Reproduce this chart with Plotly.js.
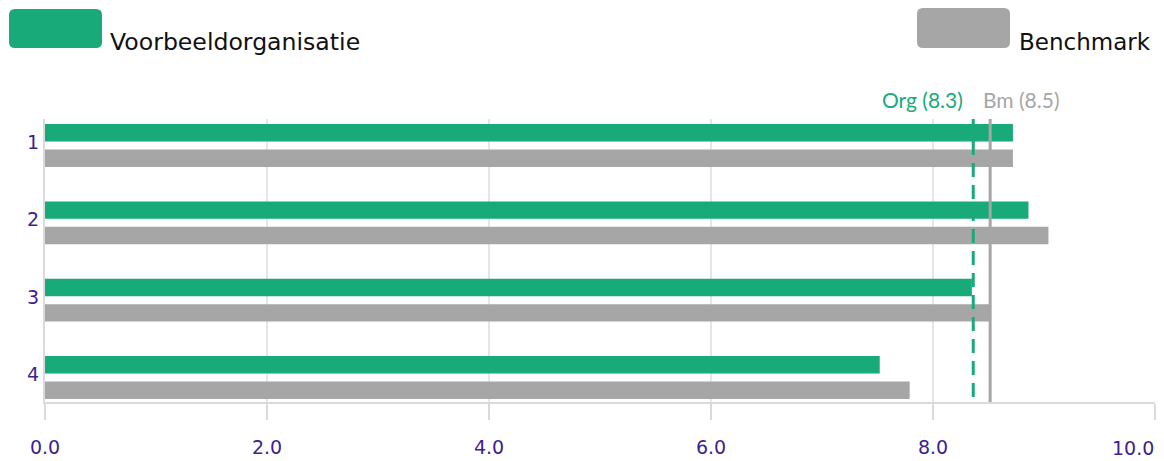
<!DOCTYPE html>
<html>
<head>
<meta charset="utf-8">
<script src="https://cdn.plot.ly/plotly-3.0.1.min.js"></script>
<style>
  html, body { margin: 0; padding: 0; background: #ffffff; }
  #chart { width: 1164px; height: 461px; }
</style>
</head>
<body>
<div id="chart"></div>
<script>
// Scores per question for the organisation and the benchmark
const categories = ['1', '2', '3', '4'];
const orgValues = [8.72, 8.86, 8.35, 7.52];
const bmValues = [8.72, 9.04, 8.51, 7.79];
const seriesNames = ['Voorbeeldorganisatie', 'Benchmark'];
const refLabels = ['Org', 'Bm'];
const xTicks = [0, 2, 4, 6, 8, 10];

const GREEN = '#18aa78';
const GREY = '#a6a6a6';
const PURPLE = '#3d1f8e';
const AXIS = '#dadada';

const W = 1164, H = 461;
const M = { l: 45, r: 9, t: 119, b: 59 };
const PW = W - M.l - M.r, PH = H - M.t - M.b;

// pixel -> paper helpers for the legend elements outside the plot area
const px = v => (v - M.l) / PW;
const py = v => (H - M.b - v) / PH;

function roundRect(x0, y0, x1, y1, r) {
  const X = px, Y = py;
  return 'M' + X(x0 + r) + ',' + Y(y0) +
    ' L' + X(x1 - r) + ',' + Y(y0) +
    ' Q' + X(x1) + ',' + Y(y0) + ' ' + X(x1) + ',' + Y(y0 + r) +
    ' L' + X(x1) + ',' + Y(y1 - r) +
    ' Q' + X(x1) + ',' + Y(y1) + ' ' + X(x1 - r) + ',' + Y(y1) +
    ' L' + X(x0 + r) + ',' + Y(y1) +
    ' Q' + X(x0) + ',' + Y(y1) + ' ' + X(x0) + ',' + Y(y1 - r) +
    ' L' + X(x0) + ',' + Y(y0 + r) +
    ' Q' + X(x0) + ',' + Y(y0) + ' ' + X(x0 + r) + ',' + Y(y0) + ' Z';
}

const mean = arr => arr.reduce((a, b) => a + b, 0) / arr.length;
const orgMean = mean(orgValues);
const bmMean = mean(bmValues);
const fmt = v => (Math.floor(v * 10) / 10).toFixed(1);

const traces = [
  {
    type: 'bar', orientation: 'h', name: seriesNames[0],
    y: categories, x: orgValues,
    marker: { color: GREEN }, hoverinfo: 'skip'
  },
  {
    type: 'bar', orientation: 'h', name: seriesNames[1],
    y: categories, x: bmValues,
    marker: { color: GREY }, hoverinfo: 'skip'
  }
];

const tickFont = { family: 'DejaVu Sans, Verdana, sans-serif', size: 19, color: PURPLE };
const lastTick = xTicks[xTicks.length - 1];

const layout = {
  width: W, height: H,
  margin: M,
  paper_bgcolor: '#ffffff', plot_bgcolor: '#ffffff',
  showlegend: false,
  barmode: 'group',
  bargap: 0.342,
  bargroupgap: 0.313,
  xaxis: {
    range: [0, 10],
    tickvals: xTicks,
    ticktext: xTicks.map(v => v === lastTick ? '' : v.toFixed(1)),
    tickfont: tickFont,
    ticks: 'outside', ticklen: 16, tickwidth: 2, tickcolor: AXIS,
    ticklabelstandoff: 11,
    showgrid: true, gridcolor: '#e6e6e6', gridwidth: 1.5,
    showline: true, linecolor: AXIS, linewidth: 2,
    zeroline: false, fixedrange: true
  },
  yaxis: {
    type: 'category',
    range: [3.317, -0.343],
    tickfont: tickFont,
    ticks: '', ticklabelstandoff: 0,
    ticklabelshift: 3,
    showgrid: false,
    showline: true, linecolor: AXIS, linewidth: 2,
    zeroline: false, fixedrange: true
  },
  shapes: [
    // average reference lines, drawn top to bottom
    {
      type: 'line', xref: 'x', yref: 'paper', x0: orgMean, x1: orgMean, y0: 1, y1: 0,
      line: { color: GREEN, width: 3, dash: '14px,8px' }, layer: 'above'
    },
    {
      type: 'line', xref: 'x', yref: 'paper', x0: bmMean, x1: bmMean, y0: 1, y1: 0,
      line: { color: GREY, width: 3 }, layer: 'above'
    },
    // legend swatches
    {
      type: 'path', xref: 'paper', yref: 'paper', path: roundRect(9, 9, 102, 48, 6),
      fillcolor: GREEN, line: { width: 0 }
    },
    {
      type: 'path', xref: 'paper', yref: 'paper', path: roundRect(917, 8, 1010, 48, 6),
      fillcolor: GREY, line: { width: 0 }
    }
  ],
  annotations: [
    {
      xref: 'paper', yref: 'paper', x: px(108), y: py(42), xanchor: 'left', yanchor: 'middle',
      text: seriesNames[0], showarrow: false,
      font: { family: 'DejaVu Sans, Verdana, sans-serif', size: 23.6, color: '#111111' }
    },
    {
      xref: 'paper', yref: 'paper', x: px(1017), y: py(42), xanchor: 'left', yanchor: 'middle',
      text: seriesNames[1], showarrow: false,
      font: { family: 'DejaVu Sans, Verdana, sans-serif', size: 23, color: '#111111' }
    },
    {
      xref: 'x', yref: 'paper', x: orgMean, y: py(100), xanchor: 'right', yanchor: 'middle',
      xshift: -8,
      text: refLabels[0] + ' (' + fmt(orgMean) + ')', showarrow: false,
      font: { family: 'Lato, Open Sans, sans-serif', size: 21, color: GREEN }
    },
    {
      xref: 'x', yref: 'paper', x: bmMean, y: py(100), xanchor: 'left', yanchor: 'middle',
      xshift: -9,
      text: refLabels[1] + ' (' + fmt(bmMean) + ')', showarrow: false,
      font: { family: 'Lato, Open Sans, sans-serif', size: 21, color: GREY }
    },
    {
      // last tick label kept inside the canvas
      xref: 'x', yref: 'paper', x: lastTick, y: py(448), xanchor: 'right', yanchor: 'middle',
      xshift: 1,
      text: lastTick.toFixed(1), showarrow: false,
      font: tickFont
    }
  ]
};

Plotly.newPlot('chart', traces, layout, { staticPlot: true, displayModeBar: false });
</script>
</body>
</html>
